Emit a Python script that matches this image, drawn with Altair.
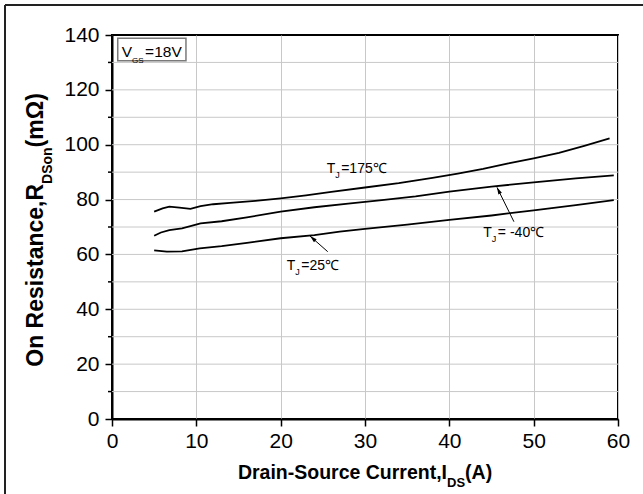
import math
import altair as alt
import pandas as pd

# ---------------- data ----------------
x_175 = [5, 6, 6.8, 8, 9.3, 10.5, 12, 14, 17, 20, 23, 26, 30, 34, 38, 41, 44, 47, 50, 53, 56, 59]
y_175 = [75.6, 76.8, 77.4, 77.1, 76.6, 77.6, 78.3, 78.8, 79.5, 80.4, 81.5, 82.8, 84.4, 86.0, 87.9, 89.5, 91.2, 93.2, 95.0, 97.0, 99.6, 102.3]
x_m40 = [5, 5.8, 6.8, 8.3, 9.3, 10.5, 13, 16, 20, 24, 28, 32, 36, 40, 45, 50, 55, 59.5]
y_m40 = [66.8, 68.0, 68.9, 69.5, 70.3, 71.3, 72.1, 73.5, 75.6, 77.2, 78.5, 79.8, 81.2, 82.9, 84.7, 86.3, 87.7, 88.8]
x_25 = [5, 6.5, 8.3, 10.4, 13, 16, 20, 24, 27, 30, 35, 40, 45, 50, 55, 59.5]
y_25 = [61.5, 61.0, 61.1, 62.2, 63.0, 64.2, 65.9, 67.0, 68.3, 69.3, 70.9, 72.6, 74.2, 76.1, 78.0, 79.8]

x_ticks = [0, 10, 20, 30, 40, 50, 60]
y_ticks = [0, 20, 40, 60, 80, 100, 120, 140]
y_grid = [10, 20, 30, 40, 50, 60, 70, 80, 90, 100, 110, 120, 130]
y_minor = [10, 30, 50, 70, 90, 110, 130]

# annotation labels (T_J = ...)
ann_x = [25.45, 44.03, 20.72]
ann_y = [89.6, 66.5, 54.3]
ann_after = ["=175\u2103", "= -40\u2103", "=25\u2103"]

# arrows: tail -> head
arr_x1 = [47.66, 25.58]
arr_y1 = [71.93, 61.0]
arr_x2 = [45.65, 23.48]
arr_y2 = [84.45, 66.7]

# V_GS box
box_x = [0.68, 8.77]
box_y = [138.8, 130.6]
box_text_x = [1.15]
box_text_y = [132.1]

# ---------------- layout ----------------
W, H = 506, 384
PAD = {"left": 112, "top": 35, "right": 25, "bottom": 75}
FONT = "Liberation Sans"
KX = W / 60.0
KY = H / 140.0

REG = {"T": 611, "J": 500, "=": 584, " ": 278, "-": 333, "V": 667, "G": 778, "S": 667}
for d in "0123456789":
    REG[d] = 556
BOLD = {" ": 278, "(": 333, ")": 333, ",": 278, "-": 333, "A": 722, "C": 722, "D": 722,
        "I": 278, "O": 778, "R": 722, "S": 667, "a": 556, "c": 556, "e": 556, "i": 278,
        "m": 889, "n": 611, "o": 611, "r": 389, "s": 556, "t": 333, "u": 611, "\u03a9": 780}


def tw(s, size, table):
    return sum(table.get(c, 600) for c in s) / 1000.0 * size


one = alt.Data(values=[{"k": 1}])

df_lines = pd.concat([
    pd.DataFrame({"series": "175", "x": x_175, "y": y_175}),
    pd.DataFrame({"series": "-40", "x": x_m40, "y": y_m40}),
    pd.DataFrame({"series": "25", "x": x_25, "y": y_25}),
])

xs = alt.Scale(domain=[0, 60], nice=False, zero=False)
ys = alt.Scale(domain=[0, 140], nice=False)

x_axis = alt.Axis(values=x_ticks, grid=True, gridColor="#c8c8c8", gridWidth=1,
                  tickSize=7, tickWidth=1.5, tickColor="black",
                  domainColor="black", domainWidth=2,
                  labelFont=FONT, labelFontSize=21, labelColor="black",
                  labelPadding=4, labelFlush=False, title=None)
y_axis = alt.Axis(values=y_ticks, grid=False,
                  tickSize=7, tickWidth=1.5, tickColor="black",
                  domainColor="black", domainWidth=2,
                  labelFont=FONT, labelFontSize=21, labelColor="black",
                  labelPadding=6, title=None)

grid = alt.Chart(pd.DataFrame({"y": y_grid})).mark_rule(color="#c8c8c8", strokeWidth=1).encode(
    y=alt.Y("y:Q", scale=ys, title=None), x=alt.datum(0), x2=alt.datum(60))

lines = alt.Chart(df_lines).mark_line(color="black", strokeWidth=1.8).encode(
    x=alt.X("x:Q", scale=xs, axis=x_axis, title=None),
    y=alt.Y("y:Q", scale=ys, axis=y_axis, title=None),
    detail="series:N")

minor = alt.Chart(pd.DataFrame({"y": y_minor})).mark_rule(color="black", strokeWidth=1.5).encode(
    y=alt.Y("y:Q", title=None), x=alt.value(-4), x2=alt.value(0))

# annotation texts
ann_df = pd.DataFrame({"x": ann_x, "y": ann_y, "after": ann_after})
A_SIZE = 14
SUB = 9
t_w = tw("T", A_SIZE, REG)
ann_T = alt.Chart(ann_df).mark_text(text="T", font=FONT, fontSize=A_SIZE, align="left",
                                    baseline="alphabetic", color="black").encode(
    x=alt.X("x:Q", title=None), y=alt.Y("y:Q", title=None))
ann_J = alt.Chart(ann_df).mark_text(text="J", font=FONT, fontSize=SUB, align="left",
                                    baseline="alphabetic", color="black", dx=t_w, dy=5).encode(
    x=alt.X("x:Q", title=None), y=alt.Y("y:Q", title=None))
ann_A = alt.Chart(ann_df).mark_text(font=FONT, fontSize=A_SIZE, align="left",
                                    baseline="alphabetic", color="black",
                                    dx=t_w + tw("J", SUB, REG) + 1.5).encode(
    x=alt.X("x:Q", title=None), y=alt.Y("y:Q", title=None), text="after:N")

# arrows
angles = []
for a, b, c, d in zip(arr_x1, arr_y1, arr_x2, arr_y2):
    dxp = (c - a) * KX
    dyp = -(d - b) * KY
    angles.append(math.degrees(math.atan2(dxp, -dyp)) % 360)
arr_df = pd.DataFrame({"x1": arr_x1, "y1": arr_y1, "x2": arr_x2, "y2": arr_y2, "ang": angles})
arr_lines = alt.Chart(arr_df).mark_rule(color="black", strokeWidth=1).encode(
    x=alt.X("x1:Q", title=None), y=alt.Y("y1:Q", title=None), x2="x2:Q", y2="y2:Q")
heads = alt.Chart(arr_df).mark_point(shape="M0,0 L0.28,1 L-0.28,1 Z", filled=True, size=200,
                                     color="black", opacity=1).encode(
    x=alt.X("x2:Q", title=None), y=alt.Y("y2:Q", title=None),
    angle=alt.Angle("ang:Q", scale=None))

# V_GS box
box_df = pd.DataFrame({"x1": [box_x[0]], "x2": [box_x[1]], "y1": [box_y[0]], "y2": [box_y[1]]})
box = alt.Chart(box_df).mark_rect(fill="white", stroke="#7a7a7a", strokeWidth=1.5).encode(
    x=alt.X("x1:Q", title=None), x2="x2:Q", y=alt.Y("y1:Q", title=None), y2="y2:Q")
bt_df = pd.DataFrame({"x": box_text_x, "y": box_text_y})
B_SIZE = 15.5
B_SUB = 8
bV = alt.Chart(bt_df).mark_text(text="V", font=FONT, fontSize=B_SIZE, align="left",
                                baseline="alphabetic", color="black").encode(
    x=alt.X("x:Q", title=None), y=alt.Y("y:Q", title=None))
bGS = alt.Chart(bt_df).mark_text(text="GS", font=FONT, fontSize=B_SUB, align="left",
                                 baseline="alphabetic", color="black",
                                 dx=tw("V", B_SIZE, REG), dy=6).encode(
    x=alt.X("x:Q", title=None), y=alt.Y("y:Q", title=None))
bEq = alt.Chart(bt_df).mark_text(text="=18V", font=FONT, fontSize=B_SIZE, align="left",
                                 baseline="alphabetic", color="black",
                                 dx=tw("V", B_SIZE, REG) + tw("GS", B_SUB, REG) + 1.5).encode(
    x=alt.X("x:Q", title=None), y=alt.Y("y:Q", title=None))

# X axis title (with subscript)
XT, XS = 19.5, 13
xp1, xp2, xp3 = "Drain-Source Current,I", "DS", "(A)"
xw1, xw2, xw3 = tw(xp1, XT, BOLD), tw(xp2, XS, BOLD), tw(xp3, XT, BOLD)
xstart = W / 2 - (xw1 + xw2 + xw3) / 2
xbase = 443.6


def txt(text, x, y, size, angle=0, bold=True):
    kw = dict(text=text, font=FONT, fontSize=size, align="left", baseline="alphabetic",
              color="black", fontWeight="bold" if bold else "normal")
    if angle:
        kw["angle"] = angle
    return alt.Chart(one).mark_text(**kw).encode(x=alt.value(x), y=alt.value(y))


xt_layers = [
    txt(xp1, xstart, xbase, XT),
    txt(xp2, xstart + xw1, xbase + 8, XS),
    txt(xp3, xstart + xw1 + xw2, xbase, XT),
]

# Y axis title (rotated, with subscript)
YT, YS = 23, 14
yp1, yp2, yp3 = "On Resistance,R", "DSon", " (m\u03a9)"
yw1, yw2, yw3 = tw(yp1, YT, BOLD), tw(yp2, YS, BOLD), tw(yp3, YT, BOLD)
ystart = H / 2 + (yw1 + yw2 + yw3) / 2
ybase = -69
yt_layers = [
    txt(yp1, ybase, ystart, YT, angle=270),
    txt(yp2, ybase + 9, ystart - yw1, YS, angle=270),
    txt(yp3, ybase, ystart - yw1 - yw2, YT, angle=270),
]

# outer frame (left and top edges of the figure)
frame_v = alt.Chart(one).mark_rule(color="#222222", strokeWidth=2).encode(
    x=alt.value(-107), y=alt.value(-30), y2=alt.value(H + PAD["bottom"]))
frame_h = alt.Chart(one).mark_rule(color="#222222", strokeWidth=2).encode(
    x=alt.value(-107), x2=alt.value(W + PAD["right"]), y=alt.value(-30))

chart = alt.layer(
    grid, lines, minor, arr_lines, heads, ann_T, ann_J, ann_A,
    box, bV, bGS, bEq, *xt_layers, *yt_layers, frame_v, frame_h
).properties(
    width=W, height=H, padding=PAD,
    autosize=alt.AutoSizeParams(type="none"),
    background="white",
).configure_view(stroke="black", strokeWidth=2)

chart.save("out.html", embed_options={"renderer": "svg", "actions": False})
